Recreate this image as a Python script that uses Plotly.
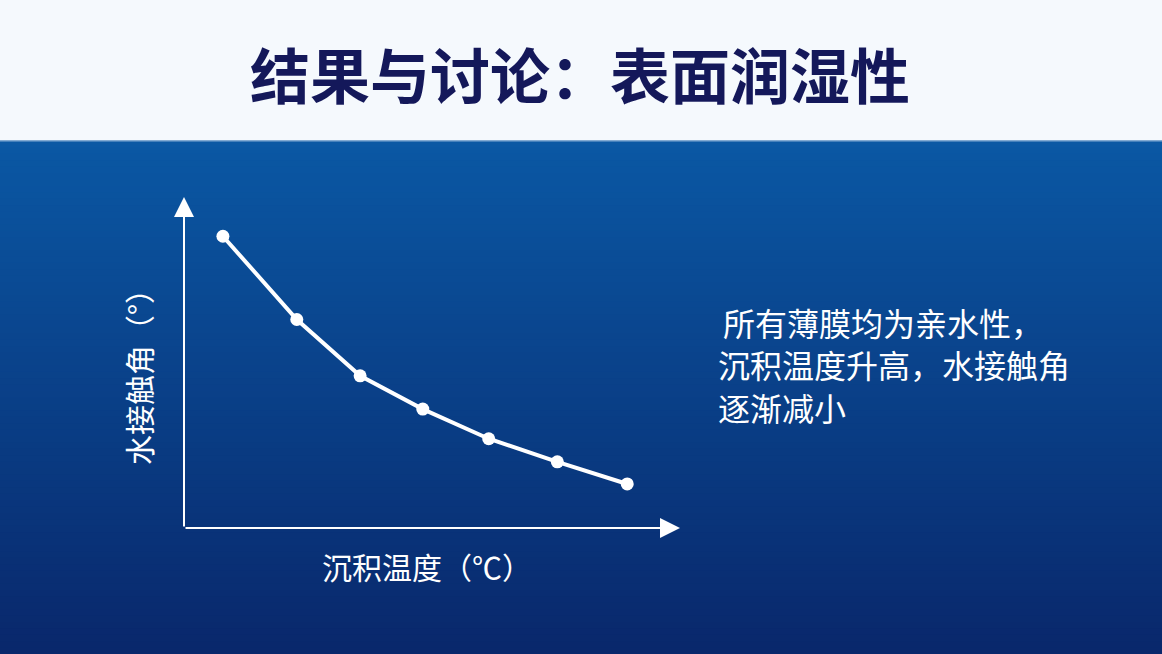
import plotly.graph_objects as go

# slide texts
title_text = "结果与讨论：表面润湿性"
x_label = "沉积温度（℃）"
y_label = "水接触角（°）"
note_lines = ["所有薄膜均为亲水性，", "沉积温度升高，水接触角", "逐渐减小"]

# curve (no tick labels, so relative units)
temp_pos = [0.59, 1.71, 2.67, 3.62, 4.62, 5.66, 6.72]
contact_angle = [97.4, 69.6, 50.8, 39.7, 29.8, 22.1, 14.7]

W, H = 1162, 654
font_cjk = "Noto Sans CJK SC"

x_max = 7.52
y_max = 110.5

fig = go.Figure()

fig.add_trace(go.Scatter(
    x=temp_pos, y=contact_angle,
    mode="lines+markers",
    line=dict(color="white", width=4),
    marker=dict(color="white", size=13),
    hoverinfo="skip",
))

# blue gradient background, built from thin strips
shapes = []
top_px = 141
n_strips = 80
c_top = (11, 88, 164)
c_bot = (9, 40, 108)
for i in range(n_strips):
    t = i / (n_strips - 1)
    r = int(c_top[0] + (c_bot[0] - c_top[0]) * t)
    g = int(c_top[1] + (c_bot[1] - c_top[1]) * t)
    b = int(c_top[2] + (c_bot[2] - c_top[2]) * t)
    y0 = top_px + (H - top_px) * i / n_strips
    y1 = top_px + (H - top_px) * (i + 1) / n_strips + 1
    shapes.append(dict(
        type="rect", xref="paper", yref="paper", layer="below",
        x0=0, x1=1, y0=1 - y1 / H, y1=1 - y0 / H,
        fillcolor=f"rgb({r},{g},{b})", line=dict(width=0),
    ))
# header band
shapes.append(dict(
    type="rect", xref="paper", yref="paper", layer="below",
    x0=0, x1=1, y0=1 - top_px / H, y1=1,
    fillcolor="#f5f9fd", line=dict(width=0),
))
shapes.append(dict(
    type="line", xref="paper", yref="paper", layer="below",
    x0=0, x1=1, y0=1 - top_px / H, y1=1 - top_px / H,
    line=dict(color="#5b8fc4", width=1.5),
))

annotations = [
    # axes with arrow heads
    dict(x=x_max, y=0, ax=0, ay=0, xref="x", yref="y", axref="x", ayref="y",
         text="", showarrow=True, arrowhead=2, arrowsize=2, arrowwidth=2,
         arrowcolor="white", standoff=0),
    dict(x=0, y=y_max, ax=0, ay=0, xref="x", yref="y", axref="x", ayref="y",
         text="", showarrow=True, arrowhead=2, arrowsize=2, arrowwidth=2,
         arrowcolor="white", standoff=0),
    dict(text=title_text, xref="paper", yref="paper", x=580 / W, y=1 - 73 / H,
         showarrow=False, xanchor="center", yanchor="middle",
         font=dict(family=font_cjk, size=60, color="#14185a", weight="bold")),
    dict(text=x_label, xref="paper", yref="paper", x=427 / W, y=1 - 566 / H,
         showarrow=False, xanchor="center", yanchor="middle",
         font=dict(family=font_cjk, size=30, color="white")),
    dict(text=y_label, xref="paper", yref="paper", x=138 / W, y=1 - 370 / H,
         showarrow=False, xanchor="center", yanchor="middle", textangle=-90,
         font=dict(family=font_cjk, size=30, color="white")),
]
line_y = [322, 364, 407]
for i, line in enumerate(note_lines):
    annotations.append(dict(
        text=line, xref="paper", yref="paper",
        x=(721 if i == 0 else 716) / W, y=1 - line_y[i] / H,
        showarrow=False, xanchor="left", yanchor="middle",
        font=dict(family=font_cjk, size=32, color="white"),
    ))

fig.update_layout(
    width=W, height=H,
    margin=dict(l=0, r=0, t=0, b=0),
    paper_bgcolor="#0a3f85",
    plot_bgcolor="rgba(0,0,0,0)",
    showlegend=False,
    xaxis=dict(range=[0, x_max], domain=[184 / W, 680 / W], visible=False),
    yaxis=dict(range=[0, y_max], domain=[(H - 528) / H, (H - 197) / H], visible=False),
    shapes=shapes,
    annotations=annotations,
)

# page body has a default margin; drop it so the slide sits at the corner
fig.write_html("out.html", config={"displayModeBar": False},
               post_script="document.body.style.margin='0';")
